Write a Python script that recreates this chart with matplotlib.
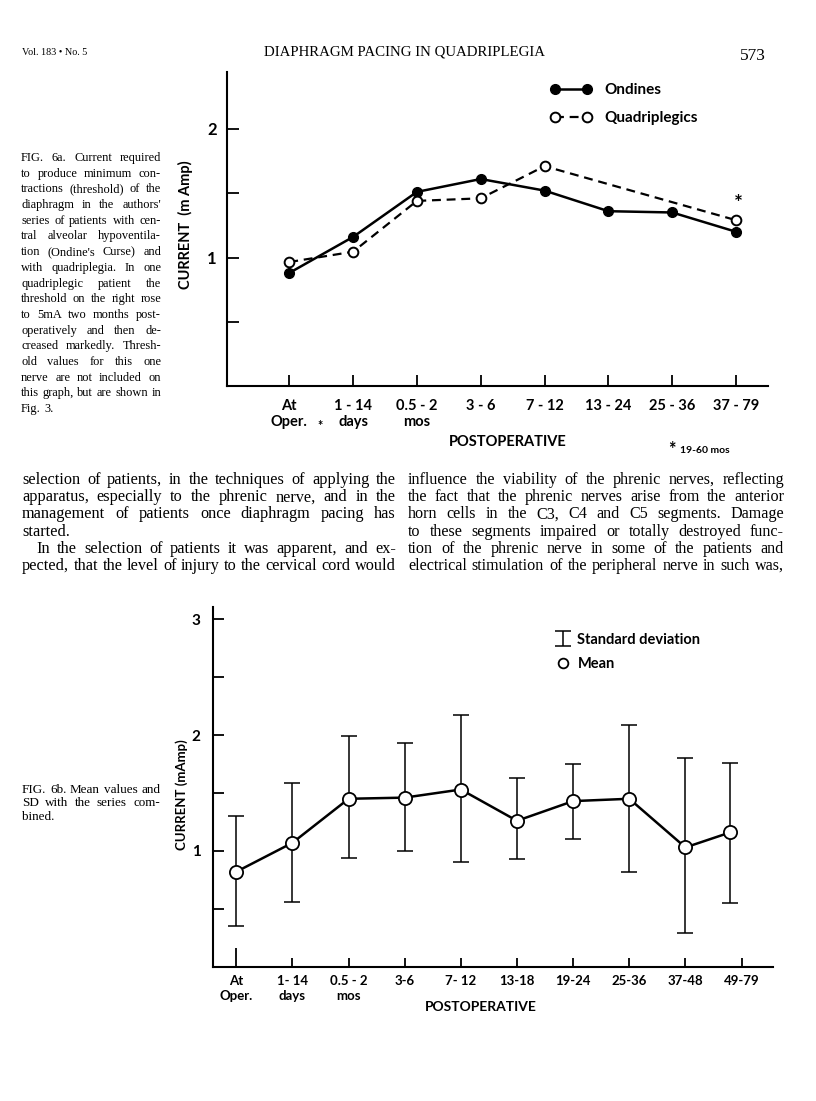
import numpy as np
import matplotlib
matplotlib.use("Agg")
import matplotlib.pyplot as plt

### values (current in mA)

# Fig. 6a - threshold by series
periods_a = ["At\nOper.", "1 - 14\ndays", "0.5 - 2\nmos", "3 - 6", "7 - 12",
             "13 - 24", "25 - 36", "37 - 79"]
ondines = [0.88, 1.16, 1.51, 1.61, 1.52, 1.36, 1.35, 1.20]
quadriplegics = [0.965, 1.045, 1.44, 1.46, 1.71, None, None, 1.29]

# Fig. 6b - series combined, mean and SD
periods_b = ["At\nOper.", "1- 14\ndays", "0.5 - 2\nmos", "3-6", "7- 12",
             "13-18", "19-24", "25-36", "37-48", "49-79"]
x_b = [0, 1, 2, 3, 4, 5, 6, 7, 8, 8.8]   # last mean is drawn left of its tick
mean_b = [0.82, 1.07, 1.45, 1.46, 1.53, 1.26, 1.43, 1.45, 1.03, 1.16]
sd_hi = [1.30, 1.59, 1.99, 1.93, 2.17, 1.63, 1.75, 2.09, 1.80, 1.76]
sd_lo = [0.35, 0.56, 0.94, 1.00, 0.90, 0.93, 1.10, 0.82, 0.29, 0.55]

# text of the page
caption_a = ["FIG. 6a. Current required", "to produce minimum con-",
             "tractions (threshold) of the", "diaphragm in the authors'",
             "series of patients with cen-", "tral alveolar hypoventila-",
             "tion (Ondine's Curse) and", "with quadriplegia. In one",
             "quadriplegic patient the", "threshold on the right rose",
             "to 5mA two months post-", "operatively and then de-",
             "creased markedly. Thresh-", "old values for this one",
             "nerve are not included on", "this graph, but are shown in",
             "Fig. 3."]
caption_b = ["FIG. 6b. Mean values and", "SD with the series com-", "bined."]
body_left = ["selection of patients, in the techniques of applying the",
             "apparatus, especially to the phrenic nerve, and in the",
             "management of patients once diaphragm pacing has",
             "started.",
             "In the selection of patients it was apparent, and ex-",
             "pected, that the level of injury to the cervical cord would"]
body_right = ["influence the viability of the phrenic nerves, reflecting",
              "the fact that the phrenic nerves arise from the anterior",
              "horn cells in the C3, C4 and C5 segments. Damage",
              "to these segments impaired or totally destroyed func-",
              "tion of the phrenic nerve in some of the patients and",
              "electrical stimulation of the peripheral nerve in such was,"]

W, H = 816, 1101
SANS = "Lato"
SERIF = "Liberation Serif"

fig = plt.figure(figsize=(W / 100, H / 100), dpi=100)
renderer = fig.canvas.get_renderer()


def box(l, t, r, b):
    # pixel box on the page -> figure fraction
    return [l / W, 1 - b / H, (r - l) / W, (b - t) / H]


def ftext(x, y, s, **kw):
    return fig.text(x / W, 1 - y / H, s, **kw)


def width_of(s, **kw):
    t = fig.text(0, 0, s, **kw)
    w = t.get_window_extent(renderer).width
    t.remove()
    return w


def fit_size(lines, width, family=SERIF):
    # biggest size where the widest line still fits at natural spacing
    widest = max(width_of(l, family=family, fontsize=10) for l in lines)
    return 10 * width * 0.985 / widest


def put_line(x0, x1, y, line, justify=True, **kw):
    words = line.split()
    widths = [width_of(w, **kw) for w in words]
    gap = width_of("a a", **kw) - 2 * width_of("a", **kw)
    if justify and len(words) > 1:
        gap = (x1 - x0 - sum(widths)) / (len(words) - 1)
    x = x0
    for w, wd in zip(words, widths):
        ftext(x, y, w, ha="left", va="baseline", **kw)
        x += wd + gap


def put_block(lines, x0, x1, y0, step, last_lines=(), indent=()):
    size = fit_size([l for l in lines if l not in last_lines], x1 - x0)
    for i, line in enumerate(lines):
        xs = x0 + (14 if line in indent else 0)
        put_line(xs, x1, y0 + i * step, line, justify=line not in last_lines,
                 family=SERIF, fontsize=size)


def style_axes(ax):
    for s in ("top", "right"):
        ax.spines[s].set_visible(False)
    for s in ("left", "bottom"):
        ax.spines[s].set_linewidth(1.5)
    ax.patch.set_alpha(0)


# ---------------- page header ----------------
ftext(22, 55, "Vol. 183 \u2022 No. 5", family=SERIF, fontsize=7.3)
ftext(404, 56, "DIAPHRAGM PACING IN QUADRIPLEGIA", family=SERIF, fontsize=10.7,
      ha="center", va="baseline")
ftext(753, 60, "573", family=SERIF, fontsize=12.5, ha="center", va="baseline")

# ---------------- Fig. 6a ----------------
ax1 = fig.add_axes(box(226.7, 71.7, 768, 386.2))
style_axes(ax1)
xa = np.arange(len(periods_a))
ax1.plot(xa, ondines, "-o", color="black", lw=1.8, ms=7, mfc="black", zorder=3,
         label="Ondines")
xq = [i for i, v in enumerate(quadriplegics) if v is not None]
yq = [v for v in quadriplegics if v is not None]
ax1.plot(xq, yq, "--o", color="black", lw=1.6, ms=7, mfc="white", mew=1.4,
         dashes=(4, 2.6), zorder=3, label="Quadriplegics")
ax1.annotate("*", (xq[-1], yq[-1]), xytext=(2, 7), textcoords="offset points",
             fontsize=15, fontweight="bold", family=SANS, ha="center")
ax1.set_xlim(-0.98, 7.5)
ax1.set_ylim(0, 2.444)
ax1.set_xticks(xa)
ax1.set_xticklabels(periods_a, family=SANS, fontweight="bold", fontsize=10.5,
                    linespacing=1.25)
ax1.set_yticks([0.5, 1, 1.5, 2])
ax1.set_yticklabels(["", "1", "", "2"], family=SANS, fontweight="bold", fontsize=12)
ax1.tick_params(axis="x", direction="in", length=8, width=1.3, pad=9)
ax1.tick_params(axis="y", direction="in", length=8.5, width=1.3, pad=7)
ax1.legend(loc="center left", bbox_to_anchor=(550 / W, 1 - 104 / H),
           bbox_transform=fig.transFigure, frameon=False, numpoints=2,
           handlelength=2.7, handletextpad=0.85, labelspacing=0.9,
           borderpad=0, borderaxespad=0,
           prop={"family": SANS, "weight": "bold", "size": 11})

ftext(185, 225, "CURRENT  (m Amp)", rotation=90, ha="center", va="center",
      family=SANS, fontweight="bold", fontsize=10.5)
ftext(320, 426, "*", ha="center", va="center", family=SANS, fontweight="bold",
      fontsize=9)
ftext(508, 442, "POSTOPERATIVE", ha="center", va="center", family=SANS,
      fontweight="bold", fontsize=10.5)
ftext(672, 449, "*", ha="center", va="center", family=SANS, fontweight="bold",
      fontsize=13)
ftext(680, 451, "19-60 mos", ha="left", va="center", family=SANS,
      fontweight="bold", fontsize=7.5)

put_block(caption_a, 21, 161, 161, 15.7, last_lines=("Fig. 3.",))

# ---------------- body text ----------------
put_block(body_left, 22, 396, 484, 17.2, last_lines=("started.",),
          indent=(body_left[4],))
put_block(body_right, 408, 784, 484, 17.2)

# ---------------- Fig. 6b ----------------
ax2 = fig.add_axes(box(213.3, 607, 773, 966.7))
style_axes(ax2)
mean_arr = np.array(mean_b)
yerr = [mean_arr - np.array(sd_lo), np.array(sd_hi) - mean_arr]
sd = ax2.errorbar(x_b, mean_b, yerr=yerr, fmt="none", ecolor="black",
                  elinewidth=1.1, capsize=6, capthick=1.1, zorder=2,
                  label="Standard deviation")
ax2.plot(x_b, mean_b, "-", color="black", lw=1.8, zorder=3)
mean_pts, = ax2.plot(x_b, mean_b, "o", ms=9.5, mfc="white", mec="black", mew=1.3,
                     zorder=4, label="Mean")
ax2.set_xlim(-0.41, 9.56)
ax2.set_ylim(0, 3.106)
ax2.set_xticks(np.arange(len(periods_b)))
ax2.set_xticklabels(periods_b, family=SANS, fontweight="bold", fontsize=9.5,
                    linespacing=1.3)
ax2.set_yticks([0.5, 1, 1.5, 2, 2.5, 3])
ax2.set_yticklabels(["", "1", "", "2", "", "3"], family=SANS, fontweight="bold",
                    fontsize=11)
ax2.tick_params(axis="x", direction="in", length=6.5, width=1.3, pad=6)
ax2.tick_params(axis="y", direction="in", length=7.7, width=1.3, pad=9)
ax2.xaxis.get_major_ticks()[0].tick1line.set_markersize(14)

leg2 = ax2.legend(handles=[sd, mean_pts], loc="center left",
                  bbox_to_anchor=(557 / W, 1 - 652 / H),
                  bbox_transform=fig.transFigure, frameon=False, numpoints=1,
                  handlelength=0.8, handletextpad=0.6, labelspacing=0.7,
                  borderpad=0, borderaxespad=0,
                  prop={"family": SANS, "weight": "bold", "size": 10.5})
leg2.legend_handles[1].set_markersize(7)

ftext(182, 795, "CURRENT (mAmp)", rotation=90, ha="center", va="center",
      family=SANS, fontweight="bold", fontsize=9.5)
ftext(481, 1007, "POSTOPERATIVE", ha="center", va="center", family=SANS,
      fontweight="bold", fontsize=10)

put_block(caption_b, 22, 160, 793, 13.5, last_lines=("bined.",))

fig.savefig("out.png", dpi=100, facecolor="white")
